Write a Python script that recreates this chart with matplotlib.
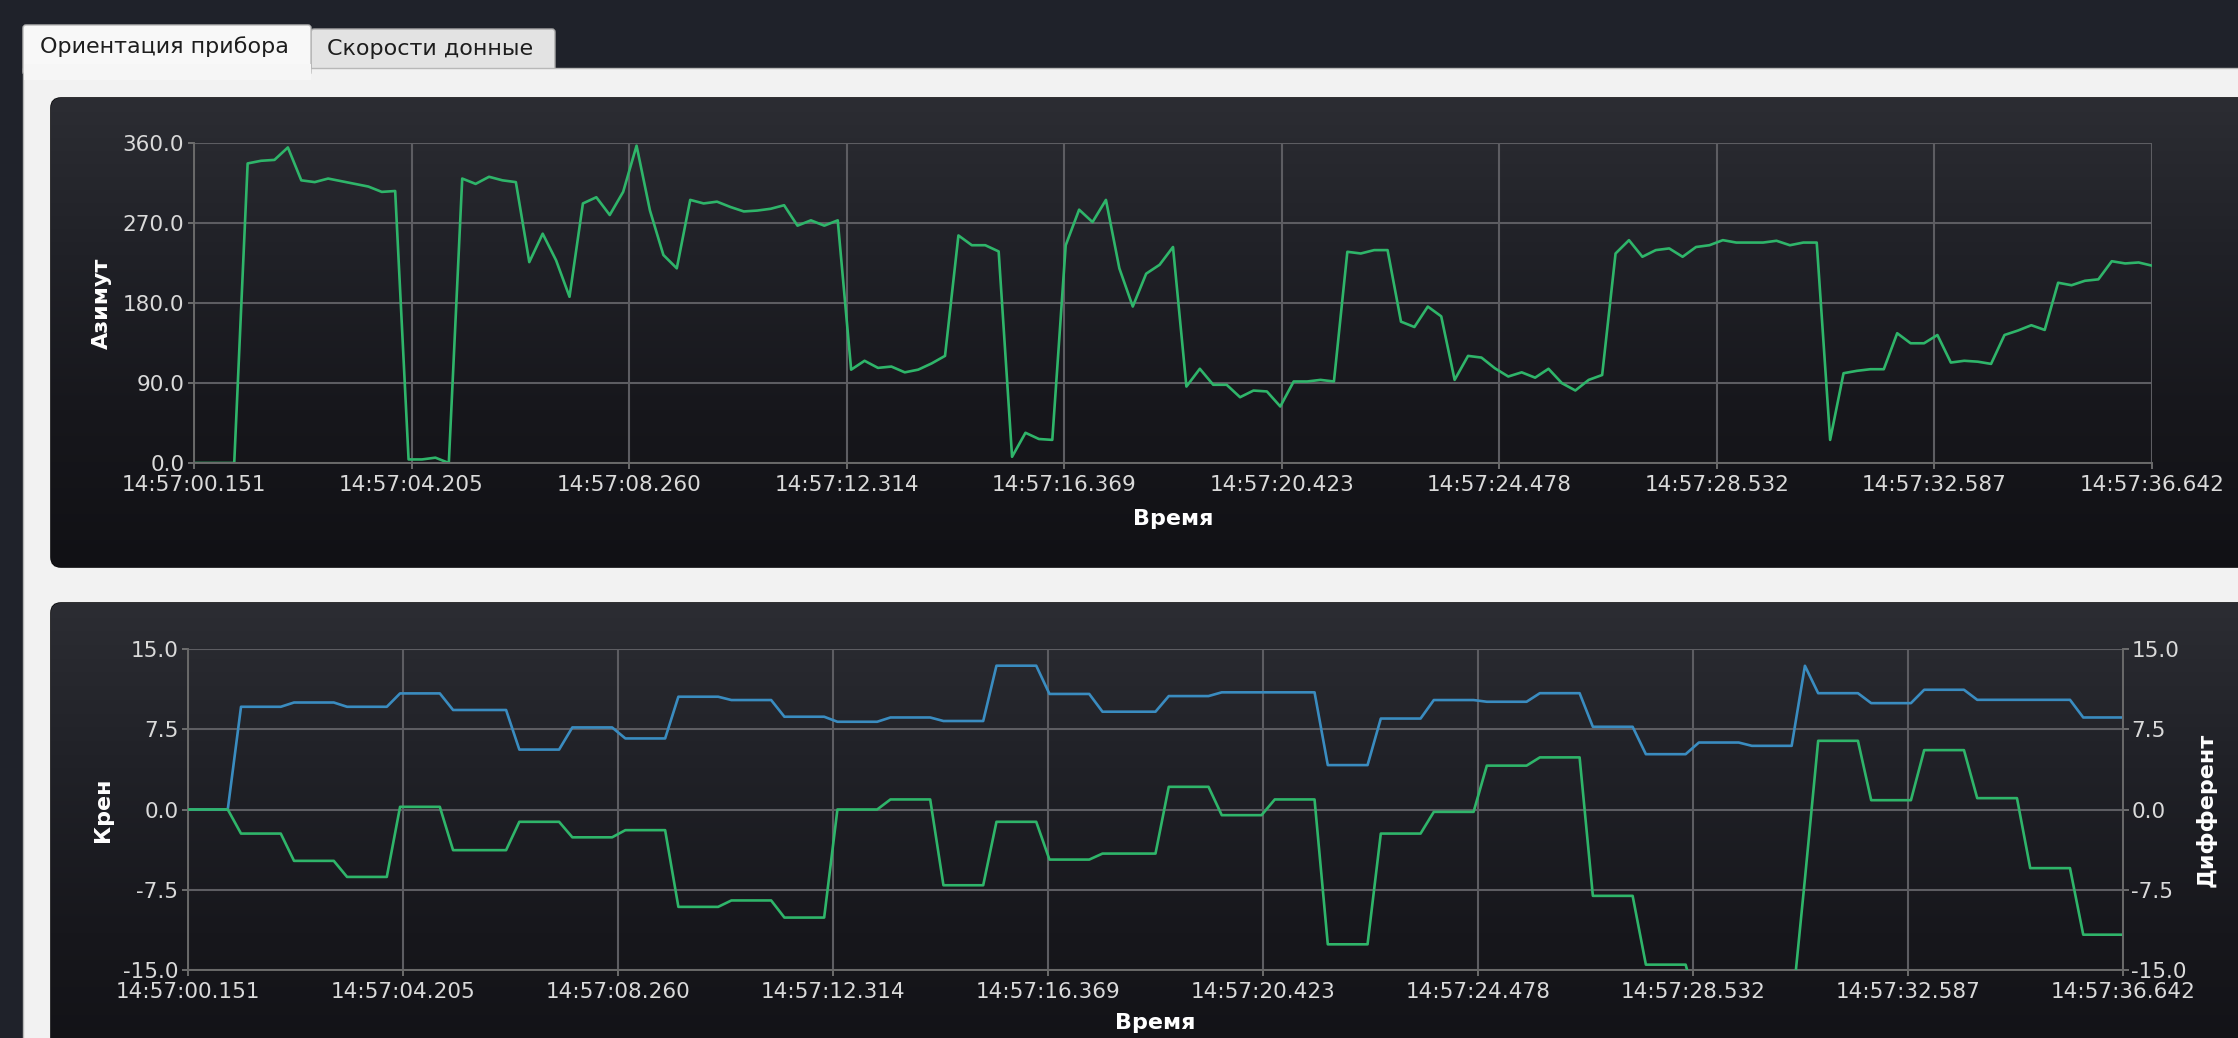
import numpy as np
import matplotlib
matplotlib.use('Agg')
import matplotlib.pyplot as plt
from matplotlib.patches import FancyBboxPatch, Rectangle
from matplotlib.colors import LinearSegmentedColormap

W, H, DPI = 2238, 1038, 100

# ---------------- data ----------------
tab_names = ['Ориентация прибора', 'Скорости донные']
time_ticks = ['14:57:00.151', '14:57:04.205', '14:57:08.260', '14:57:12.314',
              '14:57:16.369', '14:57:20.423', '14:57:24.478', '14:57:28.532',
              '14:57:32.587', '14:57:36.642']
t_first = 0.151   # seconds after 14:57:00 of first sample
t_last = 36.642   # seconds after 14:57:00 of last sample

azimuth = [0, 0, 0, 0, 337, 340, 341, 355, 318, 316, 320, 317, 314, 311, 305, 306,
           4, 4, 6, 0, 320, 314, 322, 318, 316, 226, 258, 228, 187, 292, 299, 279,
           305, 357, 284, 234, 219, 296, 292, 294, 288, 283, 284, 286, 290, 267, 273, 267,
           273, 105, 115, 107, 108.5, 102, 105, 112, 120.5, 256, 245, 245, 238, 7, 34, 27,
           26, 245, 285, 271, 296, 219, 176, 213, 223, 243, 86, 106, 88, 88, 74, 81.5,
           80.5, 63.6, 91.7, 91.7, 93.5, 91.7, 237.6, 235.7, 239.5, 239.5, 159, 153,
           176, 165, 93.5, 120.5, 118.6, 106.6, 97.3, 102, 96, 106, 89.8, 81.6,
           93.5, 99, 235.7, 250.7, 232, 239.5, 241.4, 232, 243, 245, 250.7, 248,
           248, 248, 250, 245, 248, 248, 26, 101, 103.7, 105.5, 105.5, 146,
           134.7, 134.7, 144, 113, 115, 114, 111.5, 144, 149, 155, 149.7, 202.8,
           200, 205, 206.6, 227, 224.5, 225.6, 222]

roll = [0, 0, 0, 0, 9.6, 9.6, 9.6, 9.6, 10.0, 10.0, 10.0, 10.0, 9.6, 9.6, 9.6, 9.6,
        10.85, 10.85, 10.85, 10.85, 9.3, 9.3, 9.3, 9.3, 9.3, 5.6, 5.6, 5.6,
        5.6, 7.67, 7.67, 7.67, 7.67, 6.64, 6.64, 6.64, 6.64, 10.54, 10.54, 10.54,
        10.54, 10.23, 10.23, 10.23, 10.23, 8.67, 8.67, 8.67, 8.67, 8.2, 8.2, 8.2,
        8.2, 8.6, 8.6, 8.6, 8.6, 8.27, 8.27, 8.27, 8.27, 13.44, 13.44, 13.44,
        13.44, 10.8, 10.8, 10.8, 10.8, 9.14, 9.14, 9.14, 9.14, 9.14, 10.6, 10.6,
        10.6, 10.6, 10.95, 10.95, 10.95, 10.95, 10.95, 10.95, 10.95, 10.95, 4.15, 4.15,
        4.15, 4.15, 8.5, 8.5, 8.5, 8.5, 10.23, 10.23, 10.23, 10.23, 10.07, 10.07,
        10.07, 10.07, 10.87, 10.87, 10.87, 10.87, 7.73, 7.73, 7.73, 7.73, 5.17, 5.17,
        5.17, 5.17, 6.26, 6.26, 6.26, 6.26, 5.95, 5.95, 5.95, 5.95, 13.43, 10.87,
        10.87, 10.87, 10.87, 9.94, 9.94, 9.94, 9.94, 11.19, 11.19, 11.19, 11.19, 10.25,
        10.25, 10.25, 10.25, 10.25, 10.25, 10.25, 10.25, 8.6, 8.6, 8.6, 8.6]

pitch = [0, 0, 0, 0, -2.25, -2.25, -2.25, -2.25, -4.8, -4.8, -4.8, -4.8, -6.3, -6.3, -6.3, -6.3,
         0.25, 0.25, 0.25, 0.25, -3.8, -3.8, -3.8, -3.8, -3.8, -1.15, -1.15, -1.15,
         -1.15, -2.6, -2.6, -2.6, -2.6, -1.93, -1.93, -1.93, -1.93, -9.1, -9.1, -9.1,
         -9.1, -8.5, -8.5, -8.5, -8.5, -10.1, -10.1, -10.1, -10.1, 0, 0, 0,
         0, 0.94, 0.94, 0.94, 0.94, -7.08, -7.08, -7.08, -7.08, -1.15, -1.15, -1.15,
         -1.15, -4.68, -4.68, -4.68, -4.68, -4.12, -4.12, -4.12, -4.12, -4.12, 2.12, 2.12,
         2.12, 2.12, -0.53, -0.53, -0.53, -0.53, 0.94, 0.94, 0.94, 0.94, -12.6, -12.6,
         -12.6, -12.6, -2.25, -2.25, -2.25, -2.25, -0.22, -0.22, -0.22, -0.22, 4.1, 4.1,
         4.1, 4.1, 4.87, 4.87, 4.87, 4.87, -8.07, -8.07, -8.07, -8.07, -14.5, -14.5,
         -14.5, -14.5, -19, -19, -19, -19, -19, -19, -19, -19, -6.5, 6.42,
         6.42, 6.42, 6.42, 0.87, 0.87, 0.87, 0.87, 5.55, 5.55, 5.55, 5.55, 1.06,
         1.06, 1.06, 1.06, -5.48, -5.48, -5.48, -5.48, -11.7, -11.7, -11.7, -11.7]

az_ticks = [0, 90, 180, 270, 360]
att_ticks = [-15, -7.5, 0, 7.5, 15]

# ---------------- style ----------------
plt.rcParams['font.family'] = ['DejaVu Sans']
plt.rcParams['axes.unicode_minus'] = False

GREEN = '#2fb56a'
BLUE = '#3a8cc0'
GRID = '#5d5d62'
TICKLBL = '#dadada'
FS_TICK = 15.5
FS_LBL = 16
FS_TAB = 16

duration = t_last - t_first
n = len(azimuth)
t = np.arange(n) * duration / (n - 1)
xt = np.linspace(0, duration, len(time_ticks))

fig = plt.figure(figsize=(W / DPI, H / DPI), dpi=DPI, facecolor='#1f222a')
bg = fig.add_axes([0, 0, 1, 1])
bg.set_xlim(0, W)
bg.set_ylim(H, 0)
bg.axis('off')

# tabs + white panel
tab2 = FancyBboxPatch((311, 29), 244, 50, boxstyle='round,pad=0,rounding_size=3',
                      fc='#e3e3e3', ec='#a9a9a9', lw=1, zorder=1)
panel = Rectangle((23, 68), W, H, fc='#f2f2f2', ec='#b8b8b8', lw=1, zorder=2)
tab1 = FancyBboxPatch((23, 25), 288, 50, boxstyle='round,pad=0,rounding_size=3',
                      fc='#f8f8f8', ec='#b8b8b8', lw=1, zorder=3)
cover = Rectangle((24, 64), 286.5, 16, fc='#f6f6f6', ec='none', zorder=4)
for p in (tab2, panel, tab1, cover):
    bg.add_patch(p)
bg.text(40, 47, tab_names[0], ha='left', va='center', fontsize=FS_TAB, color='#1e1e1e', zorder=6)
bg.text(327, 49, tab_names[1], ha='left', va='center', fontsize=FS_TAB, color='#1e1e1e', zorder=6)

cmap = LinearSegmentedColormap.from_list('panel', ['#2c2d33', '#202127', '#17171c', '#111115'])


def dark_panel(y0, y1):
    p = FancyBboxPatch((51, y0), W + 40 - 51, y1 - y0,
                       boxstyle='round,pad=0,rounding_size=10',
                       fc='#1b1c21', ec='#0c0c0e', lw=1.2, zorder=5)
    bg.add_patch(p)
    grad = np.linspace(0, 1, 256)[:, None]
    im = bg.imshow(grad, cmap=cmap, extent=(51, W + 40, y1, y0), aspect='auto',
                   origin='upper', zorder=6, interpolation='bilinear')
    im.set_clip_path(p)


dark_panel(98, 567)
dark_panel(603, H + 60)
bg.set_xlim(0, W)
bg.set_ylim(H, 0)


def style(ax):
    for s in ('top', 'right'):
        ax.spines[s].set_visible(False)
    for s in ('left', 'bottom'):
        ax.spines[s].set_color('#6a6a6a')
        ax.spines[s].set_linewidth(1.4)
    ax.grid(True, color=GRID, lw=1.5)
    ax.set_axisbelow(True)
    ax.tick_params(colors='#7a7a7a', labelcolor=TICKLBL, labelsize=FS_TICK,
                   length=4, width=1.2)
    ax.tick_params(axis='x', pad=4.5)
    ax.tick_params(axis='y', pad=3)
    ax.set_xlim(0, duration)
    ax.set_xticks(xt)
    ax.set_xticklabels(time_ticks)
    ax.set_xlabel('Время', color='white', fontweight='bold', fontsize=FS_LBL, labelpad=10)


# ---- top: azimuth ----
ax1 = fig.add_axes([194 / W, 1 - 463 / H, (2152 - 194) / W, (463 - 143) / H], facecolor='none')
style(ax1)
ax1.plot(t, azimuth, color=GREEN, lw=1.9)
ax1.set_ylim(0, 360)
ax1.set_yticks(az_ticks)
ax1.set_yticklabels([f'{v:.1f}' for v in az_ticks])
ax1.set_ylabel('Азимут', color='white', fontweight='bold', fontsize=FS_LBL, labelpad=8)

# ---- bottom: roll & pitch ----
ax2 = fig.add_axes([188 / W, 1 - 970 / H, (2123 - 188) / W, (970 - 649) / H], facecolor='none')
style(ax2)
ax2.xaxis.labelpad = 8
ax2.plot(t, roll, color=BLUE, lw=1.9)
ax2.set_ylim(-15, 15)
ax2.set_yticks(att_ticks)
ax2.set_yticklabels([f'{v:.1f}' for v in att_ticks])
ax2.set_ylabel('Крен', color='white', fontweight='bold', fontsize=FS_LBL, labelpad=7)

ax2r = ax2.twinx()
for s in ('top', 'left', 'bottom'):
    ax2r.spines[s].set_visible(False)
ax2r.spines['right'].set_color('#6a6a6a')
ax2r.spines['right'].set_linewidth(1.4)
ax2r.plot(t, pitch, color=GREEN, lw=1.9)
ax2r.set_ylim(-15, 15)
ax2r.set_yticks(att_ticks)
ax2r.set_yticklabels([f'{v:.1f}' for v in att_ticks])
ax2r.tick_params(colors='#7a7a7a', labelcolor=TICKLBL, labelsize=FS_TICK, length=4, width=1.2, pad=2)
ax2r.set_ylabel('Дифферент', color='white', fontweight='bold', fontsize=FS_LBL,
                rotation=90, labelpad=6)

fig.savefig('out.png', dpi=DPI, facecolor=fig.get_facecolor())
